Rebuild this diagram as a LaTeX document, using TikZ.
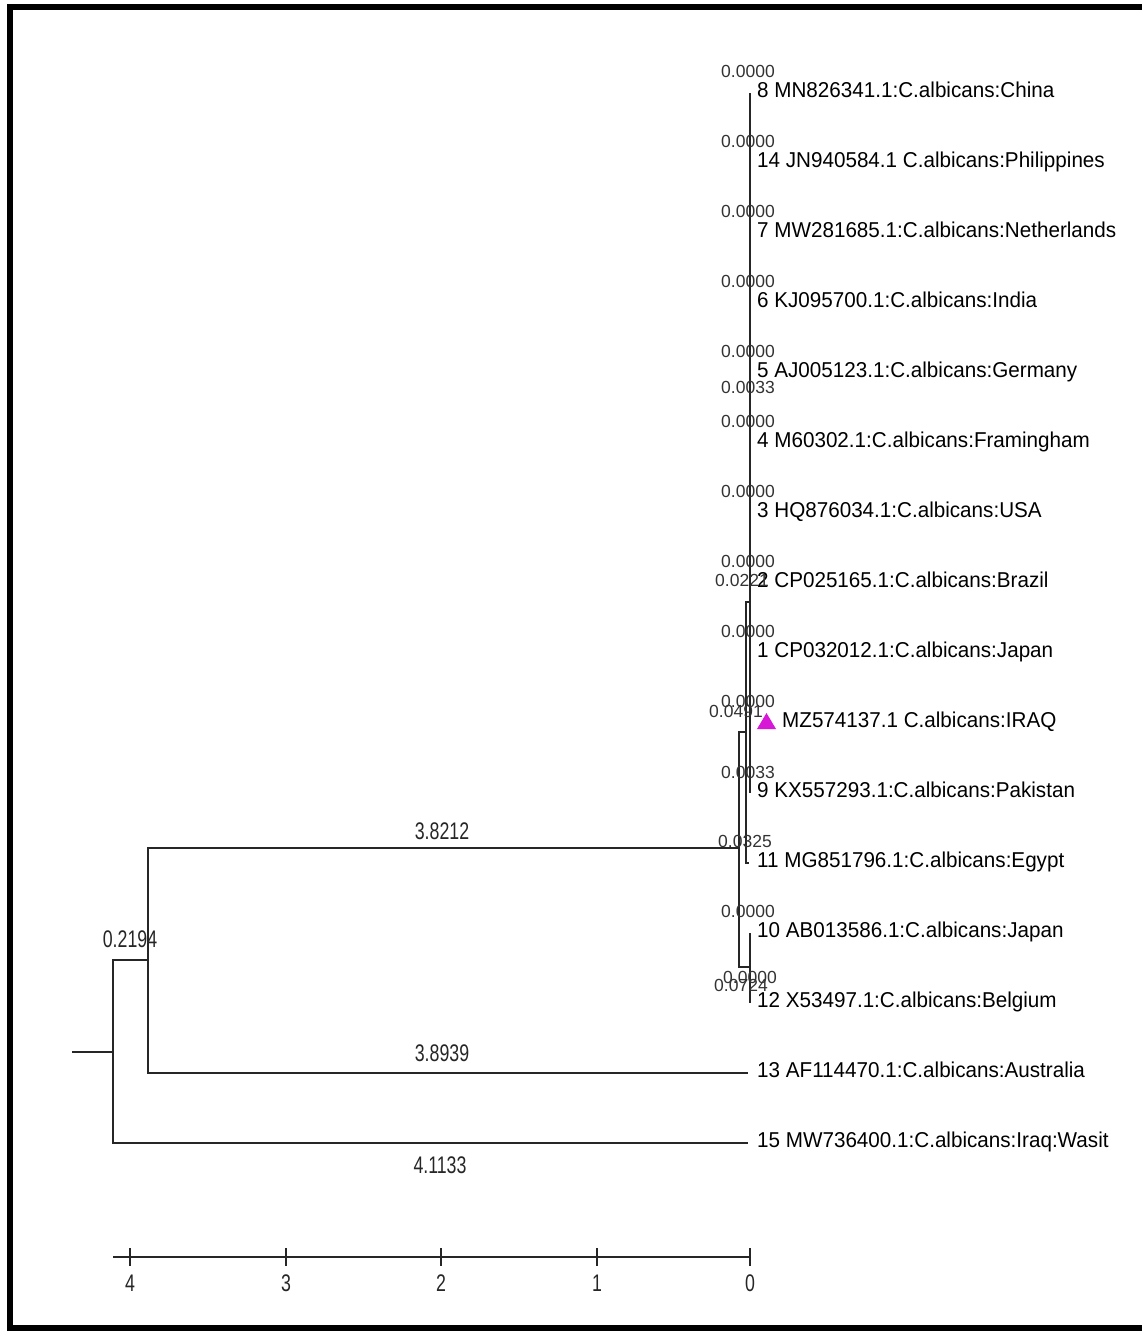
\documentclass[tikz,border=0pt]{standalone}
\usepackage{fontspec}
\setmainfont{Liberation Sans}
\definecolor{mag}{RGB}{215,25,215}
\newcommand{\lf}[1]{\scalebox{0.96}[1]{#1}}
\begin{document}
\begin{tikzpicture}[x=1pt,y=-1pt,
  br/.style={line width=2pt, black!85},
  leaf/.style={anchor=base west, inner sep=0pt, font=\fontsize{21.5}{21.5}\selectfont},
  bl/.style={inner sep=0pt, font=\fontsize{17.5}{17.5}\selectfont, text=black!80},
  nl/.style={inner sep=0pt, font=\fontsize{24}{24}\selectfont, text=black!85},
  ]
\useasboundingbox (0,0) rectangle (1142,1331);
\draw[line width=6pt] (1142,7) -- (9.5,7) -- (9.5,1328) -- (1142,1328);

% internal nodes
\coordinate (stub) at (72,1052);
\coordinate (R) at (113,1052);
\coordinate (N1) at (148,960);
\coordinate (A) at (739,848);
\coordinate (B) at (746,732);
\coordinate (D) at (750,602);
\coordinate (C) at (750,967);

% leaf tips
\coordinate (p8)  at (750,92.5);
\coordinate (p14) at (750,162.5);
\coordinate (p7)  at (750,232.5);
\coordinate (p6)  at (750,302.5);
\coordinate (p5)  at (750,372.5);
\coordinate (p4)  at (750,442.5);
\coordinate (p3)  at (750,512.5);
\coordinate (p2)  at (750,582.5);
\coordinate (p1)  at (750,652.5);
\coordinate (pIQ) at (750,722.5);
\coordinate (p9)  at (750,792.5);
\coordinate (p11) at (749,862.5);
\coordinate (p10) at (750,932.5);
\coordinate (p12) at (750,1002.5);
\coordinate (p13) at (748,1072.5);
\coordinate (p15) at (748,1142.5);

% branches
\draw[br] (stub) -- (R);
\draw[br] (R) |- (N1);
\draw[br] (R) |- (p15);
\draw[br] (N1) |- (A);
\draw[br] (N1) |- (p13);
\draw[br] (A) |- (B);
\draw[br] (A) |- (C);
\draw[br] (B) |- (D);
\draw[br] (B) |- (p11);
\draw[br] (C) |- (p10);
\draw[br] (C) |- (p12);
\foreach \p in {p8,p14,p7,p6,p5,p4,p3,p2,p1,pIQ,p9}
  \draw[br] (D) |- (\p);

% leaf labels
\node[leaf] (t8)  at (757,97)   {\lf{8 MN826341.1:C.albicans:China}};
\node[leaf] (t14) at (757,167)  {\lf{14 JN940584.1 C.albicans:Philippines}};
\node[leaf] (t7)  at (757,237)  {\lf{7 MW281685.1:C.albicans:Netherlands}};
\node[leaf] (t6)  at (757,307)  {\lf{6 KJ095700.1:C.albicans:India}};
\node[leaf] (t5)  at (757,377)  {\lf{5 AJ005123.1:C.albicans:Germany}};
\node[leaf] (t4)  at (757,447)  {\lf{4 M60302.1:C.albicans:Framingham}};
\node[leaf] (t3)  at (757,517)  {\lf{3 HQ876034.1:C.albicans:USA}};
\node[leaf] (t2)  at (757,587)  {\lf{2 CP025165.1:C.albicans:Brazil}};
\node[leaf] (t1)  at (757,657)  {\lf{1 CP032012.1:C.albicans:Japan}};
\node[leaf] (tIQ) at (782,727)  {\lf{MZ574137.1 C.albicans:IRAQ}};
\node[leaf] (t9)  at (757,797)  {\lf{9 KX557293.1:C.albicans:Pakistan}};
\node[leaf] (t11) at (757,867)  {\lf{11 MG851796.1:C.albicans:Egypt}};
\node[leaf] (t10) at (757,937)  {\lf{10 AB013586.1:C.albicans:Japan}};
\node[leaf] (t12) at (757,1007) {\lf{12 X53497.1:C.albicans:Belgium}};
\node[leaf] (t13) at (757,1077) {\lf{13 AF114470.1:C.albicans:Australia}};
\node[leaf] (t15) at (757,1147) {\lf{15 MW736400.1:C.albicans:Iraq:Wasit}};
\fill[mag] (757,729) -- (766.5,713) -- (776,729) -- cycle;

% small branch-length labels
\node[bl] (b8)  at (748,71.5)  {0.0000};
\node[bl] (b14) at (748,141.5) {0.0000};
\node[bl] (b7)  at (748,211.5) {0.0000};
\node[bl] (b6)  at (748,281.5) {0.0000};
\node[bl] (b5)  at (748,351.5) {0.0000};
\node[bl] (bx1) at (748,387)   {0.0033};
\node[bl] (b4)  at (748,421.5) {0.0000};
\node[bl] (b3)  at (748,491.5) {0.0000};
\node[bl] (b2)  at (748,561.5) {0.0000};
\node[bl] (bx2) at (742,580)   {0.0221};
\node[bl] (b1)  at (748,631.5) {0.0000};
\node[bl] (bIQ) at (748,701.5) {0.0000};
\node[bl] (bx3) at (736,711)   {0.0491};
\node[bl] (b9)  at (748,772)   {0.0033};
\node[bl] (b11) at (745,841)   {0.0325};
\node[bl] (b10) at (748,911.5) {0.0000};
\node[bl] (b12) at (750,977)   {0.0000};
\node[bl] (bx4) at (741,985)   {0.0724};

% main branch labels
\node[nl] (l1) at (442,831)  {\scalebox{0.74}[1]{3.8212}};
\node[nl] (l2) at (130,939)  {\scalebox{0.74}[1]{0.2194}};
\node[nl] (l3) at (442,1053) {\scalebox{0.74}[1]{3.8939}};
\node[nl] (l4) at (440,1165) {\scalebox{0.74}[1]{4.1133}};

% scale bar
\coordinate (s0) at (113,1257);
\coordinate (s1) at (750,1257);
\draw[br] (s0) -- (s1);
\foreach \x/\v/\n in {130/4/a,286/3/b,441/2/c,597/1/d,750/0/e}{
  \draw[br] (\x,1248) -- (\x,1266);
  \node[nl] (sc\n) at (\x,1283) {\scalebox{0.74}[1]{\v}};
}
\end{tikzpicture}
\end{document}
